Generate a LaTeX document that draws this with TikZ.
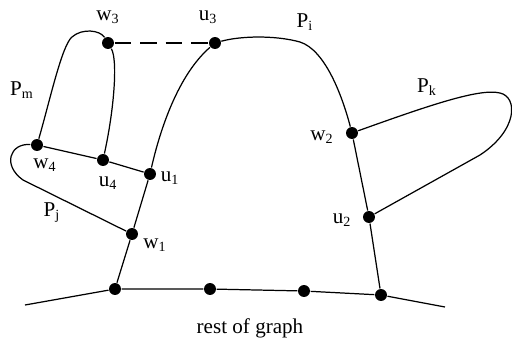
\documentclass[tikz,border=0pt]{standalone}
\usepackage{fontspec}
\setmainfont{Liberation Serif}
\begin{document}
\begin{tikzpicture}[x=0.02cm,y=-0.02cm,line width=0.7pt,
	every node/.style={font=\fontsize{12}{14}\selectfont},
	dot/.style={circle,fill,inner sep=0pt,minimum size=6.8pt}]
	\useasboundingbox (0,0) rectangle (512,339);
	% vertices
	\foreach \n/\x/\y in {w3/108/43, u3/215/43, w4/37/145, u4/103/160, u1/150/174,
		w1/132/234, b1/115/289, b2/210/289, b3/304/291, b4/381/295, w2/352/133, u2/369/217} {
		\node[dot] (\n) at (\x,\y) {};
	}
	\coordinate (e1) at (25,305);
	\coordinate (e2) at (445,307);
	% rest of graph
	\draw (e1) -- (b1) -- (b2) -- (b3) -- (b4) -- (e2);
	% P_i
	\draw (b1) -- (w1) -- (u1) .. controls (160,130) and (178,75) .. (u3)
		.. controls (240,36) and (275,35) .. (300,42)
		.. controls (325,50) and (342,95) .. (w2) -- (u2) -- (b4);
	% P_m
	\draw (w4) .. controls (50,100) and (62,45) .. (72,37) .. controls (82,28) and (100,30) .. (w3);
	\draw (w3) .. controls (118,60) and (114,110) .. (u4);
	\draw (w4) -- (u4) -- (u1);
	\draw[dash pattern=on 9.5pt off 5pt] (w3) -- (u3);
	% P_j
	\draw (w4) .. controls (10,143) and (2,165) .. (23,180) -- (w1);
	% P_k
	\draw (w2) .. controls (430,105) and (480,88) .. (500,93)
		.. controls (518,97) and (518,130) .. (480,155) -- (u2);
	% labels
	\foreach \n/\x/\y/\a/\b in {w3/108/17/w/3, u3/208/17/u/3, w4/45/165/w/4, u4/108/183/u/4,
		u1/170/178/u/1, w1/155/245/w/1, w2/322/137/w/2, u2/342/220/u/2,
		Pi/305/22/P/i, Pm/22/90/P/m, Pk/427/87/P/k, Pj/52/213/P/j} {
		\node (l\n) at (\x,\y) {\a\textsubscript{\b}};
	}
	\node (rest) at (250,328) {rest of graph};
\end{tikzpicture}
\end{document}
